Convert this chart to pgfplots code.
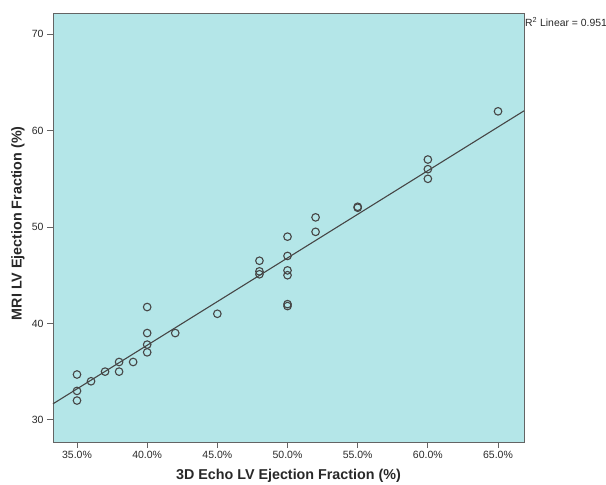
\documentclass[border=0pt]{standalone}
\usepackage{fontspec}
\setmainfont{Liberation Sans}
\usepackage{pgfplots}
\pgfplotsset{compat=1.18}
\definecolor{bgc}{RGB}{180,230,232}
\definecolor{mk}{RGB}{70,70,70}
\definecolor{frame}{RGB}{100,100,100}
\definecolor{txt}{RGB}{40,40,40}
\begin{document}
\begin{tikzpicture}
\useasboundingbox (-53pt,-43pt) rectangle (553pt,442pt);
\begin{axis}[
  at={(0,0)}, anchor=south west,
  width=471pt, height=429pt, scale only axis,
  xmin=33.29, xmax=66.85, ymin=27.7, ymax=72.2,
  axis background/.style={fill=bgc},
  axis line style={frame, line width=0.9pt},
  xtick={35,40,45,50,55,60,65},
  ytick={30,40,50,60,70},
  tick align=outside, tick pos=left,
  major tick length=6pt,
  tick style={frame, line width=0.8pt},
  /pgf/number format/assume math mode=true,
  xticklabel={\pgfmathprintnumber[fixed,fixed zerofill,precision=1]{\tick}\%},
  ticklabel style={font=\fontsize{10.5}{12}\selectfont, text=txt},
  xlabel={3D Echo LV Ejection Fraction (\%)},
  ylabel={MRI LV Ejection Fraction (\%)},
  label style={font=\bfseries\fontsize{14.3}{17}\selectfont, text=txt},
  xlabel style={at={(axis description cs:0.5,-0.0793)}, anchor=center},
  ylabel style={at={(axis description cs:-0.0743,0.51)}, anchor=center},
  clip=false,
]
\addplot[only marks, mark=o, mark size=3.8pt, mark options={draw=mk, line width=1.1pt}] coordinates {
(35,34.7) (35,33) (35,32) (36,34) (37,35) (38,36) (38,35) (39,36)
(40,41.7) (40,39) (40,37.8) (40,37) (42,39) (45,41)
(48,46.5) (48,45.4) (48,45.1)
(50,49) (50,47) (50,45.5) (50,45) (50,42) (50,41.8)
(52,51) (52,49.5) (55,52) (55,52.1)
(60,57) (60,56) (60,55) (65,62)
};
\addplot[draw=mk, line width=1.1pt] coordinates {(33.29,31.66) (66.85,62.05)};
\node[anchor=west, inner sep=0pt, font=\fontsize{10.4}{12}\selectfont, text=txt] at (rel axis cs:1,1) [xshift=1pt, yshift=-9pt] {R\textsuperscript{2} Linear = 0.951};
\end{axis}
\end{tikzpicture}
\end{document}
